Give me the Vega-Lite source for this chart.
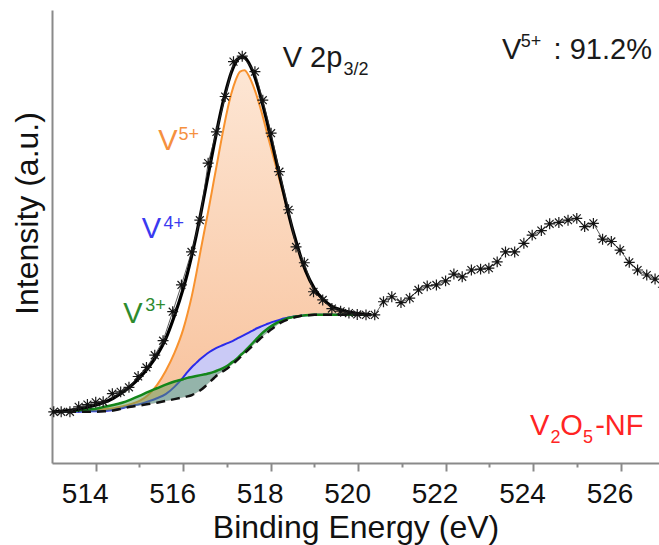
{
  "$schema": "https://vega.github.io/schema/vega-lite/v6.json",
  "width": 607,
  "height": 453,
  "autosize": {"type": "none"},
  "padding": {"left": 52, "top": 10, "right": 0, "bottom": 82},
  "background": "white",
  "config": {
    "font": "Liberation Sans",
    "view": {"stroke": null},
    "axis": {"grid": false}
  },
  "datasets": {
    "curves": [
      {"x": 513.0, "bg": 11.3, "v3": 11.3, "v4": 11.3, "v5": 11.3, "env": 11.3},
      {"x": 513.2, "bg": 11.3, "v3": 11.4, "v4": 11.3, "v5": 11.3, "env": 11.4},
      {"x": 513.4, "bg": 11.3, "v3": 11.5, "v4": 11.3, "v5": 11.4, "env": 11.6},
      {"x": 513.6, "bg": 11.3, "v3": 11.6, "v4": 11.3, "v5": 11.5, "env": 11.9},
      {"x": 513.8, "bg": 11.3, "v3": 11.8, "v4": 11.4, "v5": 11.6, "env": 12.3},
      {"x": 514.0, "bg": 11.3, "v3": 12.0, "v4": 11.4, "v5": 11.7, "env": 12.8},
      {"x": 514.2, "bg": 11.4, "v3": 12.4, "v4": 11.5, "v5": 11.9, "env": 13.4},
      {"x": 514.4, "bg": 11.6, "v3": 12.8, "v4": 11.7, "v5": 12.1, "env": 14.3},
      {"x": 514.6, "bg": 12.0, "v3": 13.3, "v4": 12.1, "v5": 12.5, "env": 15.5},
      {"x": 514.8, "bg": 12.4, "v3": 14.0, "v4": 12.6, "v5": 13.0, "env": 17.0},
      {"x": 515.0, "bg": 12.7, "v3": 14.8, "v4": 13.0, "v5": 13.7, "env": 18.8},
      {"x": 515.2, "bg": 13.0, "v3": 15.7, "v4": 13.6, "v5": 15.0, "env": 21.0},
      {"x": 515.4, "bg": 13.3, "v3": 16.5, "v4": 14.3, "v5": 17.2, "env": 23.8},
      {"x": 515.6, "bg": 13.7, "v3": 17.3, "v4": 15.2, "v5": 20.3, "env": 27.4},
      {"x": 515.8, "bg": 14.1, "v3": 18.0, "v4": 16.8, "v5": 24.3, "env": 32.5},
      {"x": 516.0, "bg": 14.5, "v3": 18.5, "v4": 18.9, "v5": 29.5, "env": 38.5},
      {"x": 516.1, "bg": 14.7, "v3": 18.8, "v4": 20.1, "v5": 33.0, "env": 42.0},
      {"x": 516.2, "bg": 15.0, "v3": 19.0, "v4": 21.2, "v5": 37.0, "env": 46.0},
      {"x": 516.3, "bg": 15.5, "v3": 19.2, "v4": 22.1, "v5": 41.8, "env": 50.3},
      {"x": 516.4, "bg": 16.1, "v3": 19.4, "v4": 23.0, "v5": 47.0, "env": 55.0},
      {"x": 516.5, "bg": 16.9, "v3": 19.6, "v4": 23.8, "v5": 52.0, "env": 60.0},
      {"x": 516.6, "bg": 17.8, "v3": 19.8, "v4": 24.5, "v5": 57.0, "env": 65.0},
      {"x": 516.7, "bg": 18.7, "v3": 20.1, "v4": 25.1, "v5": 62.3, "env": 70.0},
      {"x": 516.8, "bg": 19.6, "v3": 20.5, "v4": 25.6, "v5": 67.5, "env": 74.8},
      {"x": 516.9, "bg": 20.2, "v3": 20.9, "v4": 26.0, "v5": 72.7, "env": 79.2},
      {"x": 517.0, "bg": 20.8, "v3": 21.4, "v4": 26.4, "v5": 77.5, "env": 83.0},
      {"x": 517.1, "bg": 21.6, "v3": 22.1, "v4": 26.8, "v5": 81.5, "env": 86.2},
      {"x": 517.2, "bg": 22.4, "v3": 22.8, "v4": 27.3, "v5": 84.5, "env": 88.4},
      {"x": 517.3, "bg": 23.3, "v3": 23.7, "v4": 27.8, "v5": 86.4, "env": 89.5},
      {"x": 517.4, "bg": 24.2, "v3": 24.6, "v4": 28.3, "v5": 86.7, "env": 89.5},
      {"x": 517.5, "bg": 25.1, "v3": 25.6, "v4": 28.8, "v5": 85.5, "env": 88.3},
      {"x": 517.6, "bg": 26.0, "v3": 26.6, "v4": 29.3, "v5": 83.3, "env": 86.2},
      {"x": 517.7, "bg": 26.9, "v3": 27.6, "v4": 29.8, "v5": 80.5, "env": 83.3},
      {"x": 517.8, "bg": 27.8, "v3": 28.6, "v4": 30.2, "v5": 77.2, "env": 79.8},
      {"x": 517.9, "bg": 28.6, "v3": 29.4, "v4": 30.6, "v5": 73.5, "env": 76.0},
      {"x": 518.0, "bg": 29.4, "v3": 30.1, "v4": 31.0, "v5": 69.8, "env": 72.0},
      {"x": 518.1, "bg": 30.1, "v3": 30.7, "v4": 31.3, "v5": 66.2, "env": 67.8},
      {"x": 518.2, "bg": 30.8, "v3": 31.2, "v4": 31.6, "v5": 62.6, "env": 63.6},
      {"x": 518.3, "bg": 31.3, "v3": 31.6, "v4": 31.9, "v5": 59.0, "env": 59.5},
      {"x": 518.4, "bg": 31.7, "v3": 32.0, "v4": 32.1, "v5": 55.2, "env": 55.4},
      {"x": 518.5, "bg": 32.0, "v3": 32.2, "v4": 32.3, "v5": 51.5, "env": 51.6},
      {"x": 518.6, "bg": 32.3, "v3": 32.4, "v4": 32.4, "v5": 48.2, "env": 48.3},
      {"x": 518.7, "bg": 32.5, "v3": 32.5, "v4": 32.5, "v5": 45.0, "env": 45.1},
      {"x": 518.8, "bg": 32.6, "v3": 32.6, "v4": 32.6, "v5": 42.3, "env": 42.4},
      {"x": 519.0, "bg": 32.7, "v3": 32.7, "v4": 32.7, "v5": 38.4, "env": 38.5},
      {"x": 519.2, "bg": 32.7, "v3": 32.7, "v4": 32.7, "v5": 36.0, "env": 36.1},
      {"x": 519.4, "bg": 32.7, "v3": 32.7, "v4": 32.7, "v5": 34.6, "env": 34.6},
      {"x": 519.6, "bg": 32.7, "v3": 32.7, "v4": 32.7, "v5": 33.8, "env": 33.8},
      {"x": 519.8, "bg": 32.7, "v3": 32.7, "v4": 32.7, "v5": 33.3, "env": 33.3},
      {"x": 520.0, "bg": 32.7, "v3": 32.7, "v4": 32.7, "v5": 33.0, "env": 33.0},
      {"x": 520.2, "bg": 32.7, "v3": 32.7, "v4": 32.7, "v5": 32.8, "env": 32.8},
      {"x": 520.3, "bg": 32.7, "v3": 32.7, "v4": 32.7, "v5": 32.7, "env": 32.7}
    ],
    "exp": [
      {"x": 513.04, "y": 11.3}, {"x": 513.21, "y": 11.3}, {"x": 513.41, "y": 11.3},
      {"x": 513.61, "y": 12.4}, {"x": 513.81, "y": 12.9}, {"x": 514.0, "y": 13.4},
      {"x": 514.17, "y": 13.5}, {"x": 514.38, "y": 15.3}, {"x": 514.57, "y": 15.7},
      {"x": 514.76, "y": 16.7}, {"x": 514.97, "y": 19.1}, {"x": 515.16, "y": 21.1},
      {"x": 515.35, "y": 23.8}, {"x": 515.54, "y": 27.0}, {"x": 515.76, "y": 33.4},
      {"x": 515.96, "y": 39.3}, {"x": 516.19, "y": 46.6}, {"x": 516.38, "y": 53.6},
      {"x": 516.57, "y": 66.2}, {"x": 516.76, "y": 73.1}, {"x": 516.96, "y": 80.9},
      {"x": 517.15, "y": 88.6}, {"x": 517.35, "y": 89.8}, {"x": 517.64, "y": 86.4},
      {"x": 517.82, "y": 80.1}, {"x": 518.01, "y": 72.8}, {"x": 518.2, "y": 64.3},
      {"x": 518.41, "y": 55.9}, {"x": 518.58, "y": 47.7}, {"x": 518.77, "y": 44.2},
      {"x": 518.98, "y": 37.8}, {"x": 519.19, "y": 36.0}, {"x": 519.4, "y": 34.1},
      {"x": 519.6, "y": 33.5}, {"x": 519.79, "y": 33.1}, {"x": 519.98, "y": 32.8},
      {"x": 520.18, "y": 32.7}, {"x": 520.38, "y": 32.7}, {"x": 520.58, "y": 35.6},
      {"x": 520.77, "y": 36.7}, {"x": 520.98, "y": 35.4}, {"x": 521.18, "y": 36.4},
      {"x": 521.38, "y": 38.2}, {"x": 521.58, "y": 39.1}, {"x": 521.79, "y": 39.3},
      {"x": 522.0, "y": 40.2}, {"x": 522.19, "y": 41.7}, {"x": 522.38, "y": 41.1},
      {"x": 522.59, "y": 42.6}, {"x": 522.8, "y": 42.8}, {"x": 522.99, "y": 43.0},
      {"x": 523.18, "y": 44.4}, {"x": 523.37, "y": 46.6}, {"x": 523.58, "y": 46.6},
      {"x": 523.79, "y": 48.5}, {"x": 523.98, "y": 50.3}, {"x": 524.19, "y": 51.3},
      {"x": 524.38, "y": 52.8}, {"x": 524.59, "y": 53.1}, {"x": 524.8, "y": 53.6},
      {"x": 525.0, "y": 54.0}, {"x": 525.18, "y": 52.2}, {"x": 525.38, "y": 52.9},
      {"x": 525.59, "y": 49.4}, {"x": 525.79, "y": 48.9}, {"x": 525.99, "y": 47.0},
      {"x": 526.2, "y": 44.3}, {"x": 526.39, "y": 42.6}, {"x": 526.6, "y": 41.5},
      {"x": 526.79, "y": 40.6}, {"x": 526.98, "y": 38.8}
    ]
  },
  "layer": [
    {
      "data": {"name": "curves"},
      "mark": {"type": "area", "interpolate": "monotone",
        "color": {"gradient": "linear", "x1": 0, "y1": 0, "x2": 0, "y2": 1,
          "stops": [{"offset": 0, "color": "#FDE6D4"}, {"offset": 1, "color": "#F8C29C"}]}},
      "encoding": {
        "x": {"field": "x", "type": "quantitative",
          "scale": {"domain": [513, 526.88], "nice": false, "zero": false},
          "axis": {
            "values": [514, 515, 516, 517, 518, 519, 520, 521, 522, 523, 524, 525, 526],
            "labelExpr": "datum.value % 2 === 0 ? datum.label : ''",
            "tickSize": {"condition": {"test": "datum.value % 2 === 0", "value": 8}, "value": 4},
            "tickColor": "#8a8a8a", "tickWidth": 2,
            "domainColor": "#8a8a8a", "domainWidth": 2,
            "labelFontSize": 28, "labelColor": "#111111", "labelBaseline": "alphabetic",
            "labelPadding": 31, "labelOffset": -11, "labelFlush": false, "labelOverlap": false,
            "title": "Binding Energy (eV)", "titleFontSize": 32, "titleFontWeight": "normal",
            "titleColor": "#111111", "titleBaseline": "alphabetic", "titleY": 74
          }},
        "y": {"field": "v5", "type": "quantitative",
          "scale": {"domain": [0, 100], "nice": false, "zero": false},
          "axis": {"ticks": false, "labels": false, "domainColor": "#8a8a8a", "domainWidth": 2,
            "title": "Intensity (a.u.)", "titleFontSize": 32, "titleFontWeight": "normal",
            "titleColor": "#111111", "titleAngle": 270, "titleBaseline": "alphabetic",
            "titleAlign": "center", "titleX": -15, "titleY": 203}},
        "y2": {"field": "bg"}
      }
    },
    {
      "data": {"name": "curves"},
      "mark": {"type": "line", "interpolate": "monotone", "color": "#F8922E", "strokeWidth": 2},
      "encoding": {"x": {"field": "x", "type": "quantitative"}, "y": {"field": "v5", "type": "quantitative"}}
    },
    {
      "data": {"name": "curves"},
      "mark": {"type": "area", "interpolate": "monotone", "color": "#CACAF6"},
      "encoding": {"x": {"field": "x", "type": "quantitative"}, "y": {"field": "v4", "type": "quantitative"}, "y2": {"field": "bg"}}
    },
    {
      "data": {"name": "curves"},
      "mark": {"type": "line", "interpolate": "monotone", "color": "#2B2BEA", "strokeWidth": 2},
      "encoding": {"x": {"field": "x", "type": "quantitative"}, "y": {"field": "v4", "type": "quantitative"}}
    },
    {
      "data": {"name": "curves"},
      "mark": {"type": "area", "interpolate": "monotone", "color": "#5E9E5E", "opacity": 0.5},
      "encoding": {"x": {"field": "x", "type": "quantitative"}, "y": {"field": "v3", "type": "quantitative"}, "y2": {"field": "bg"}}
    },
    {
      "data": {"name": "curves"},
      "mark": {"type": "line", "interpolate": "monotone", "color": "#13861A", "strokeWidth": 2.5},
      "encoding": {"x": {"field": "x", "type": "quantitative"}, "y": {"field": "v3", "type": "quantitative"}}
    },
    {
      "data": {"name": "curves"},
      "mark": {"type": "line", "interpolate": "monotone", "color": "#111111", "strokeWidth": 2.5, "strokeDash": [9, 6]},
      "encoding": {"x": {"field": "x", "type": "quantitative"}, "y": {"field": "bg", "type": "quantitative"}}
    },
    {
      "data": {"name": "curves"},
      "mark": {"type": "line", "interpolate": "monotone", "color": "#000000", "strokeWidth": 3.2},
      "encoding": {"x": {"field": "x", "type": "quantitative"}, "y": {"field": "env", "type": "quantitative"}}
    },
    {
      "data": {"name": "exp"},
      "mark": {"type": "line", "color": "#333333", "strokeWidth": 0.8},
      "encoding": {"x": {"field": "x", "type": "quantitative"}, "y": {"field": "y", "type": "quantitative"}}
    },
    {
      "data": {"name": "exp"},
      "mark": {"type": "point", "shape": "M-1,0L1,0M0,-1L0,1M-0.72,-0.72L0.72,0.72M-0.72,0.72L0.72,-0.72",
        "size": 120, "filled": false, "stroke": "#1a1a1a", "strokeWidth": 1.2, "opacity": 1},
      "encoding": {"x": {"field": "x", "type": "quantitative"}, "y": {"field": "y", "type": "quantitative"}}
    },
    {
      "data": {"name": "exp"},
      "mark": {"type": "point", "shape": "circle", "size": 9, "filled": true, "color": "#111111", "opacity": 1},
      "encoding": {"x": {"field": "x", "type": "quantitative"}, "y": {"field": "y", "type": "quantitative"}}
    },
    {
      "mark": {"type": "rule", "color": "#8a8a8a", "strokeWidth": 2},
      "encoding": {"y": {"datum": 100}}
    },
    {
      "data": {"values": [
        {"x": 518.275, "y": 87.4, "t": "V 2p"},
        {"x": 523.29, "y": 89.1, "t": "V"},
        {"x": 524.47, "y": 89.1, "t": ": 91.2%"}
      ]},
      "mark": {"type": "text", "align": "left", "baseline": "alphabetic", "fontSize": 29, "color": "#1a1a1a"},
      "encoding": {"x": {"field": "x", "type": "quantitative"}, "y": {"field": "y", "type": "quantitative"}, "text": {"field": "t"}}
    },
    {
      "data": {"values": [
        {"x": 519.666, "y": 85.76, "t": "3/2"},
        {"x": 523.72, "y": 91.9, "t": "5+"}
      ]},
      "mark": {"type": "text", "align": "left", "baseline": "alphabetic", "fontSize": 18, "color": "#1a1a1a"},
      "encoding": {"x": {"field": "x", "type": "quantitative"}, "y": {"field": "y", "type": "quantitative"}, "text": {"field": "t"}}
    },
    {
      "data": {"values": [{"x": 515.43, "y": 69.1, "t": "V"}]},
      "mark": {"type": "text", "align": "left", "baseline": "alphabetic", "fontSize": 29, "color": "#F5903F"},
      "encoding": {"x": {"field": "x", "type": "quantitative"}, "y": {"field": "y", "type": "quantitative"}, "text": {"field": "t"}}
    },
    {
      "data": {"values": [{"x": 515.89, "y": 71.3, "t": "5+"}]},
      "mark": {"type": "text", "align": "left", "baseline": "alphabetic", "fontSize": 18, "color": "#F5903F"},
      "encoding": {"x": {"field": "x", "type": "quantitative"}, "y": {"field": "y", "type": "quantitative"}, "text": {"field": "t"}}
    },
    {
      "data": {"values": [{"x": 515.05, "y": 49.6, "t": "V"}]},
      "mark": {"type": "text", "align": "left", "baseline": "alphabetic", "fontSize": 29, "color": "#3A3AF0"},
      "encoding": {"x": {"field": "x", "type": "quantitative"}, "y": {"field": "y", "type": "quantitative"}, "text": {"field": "t"}}
    },
    {
      "data": {"values": [{"x": 515.55, "y": 51.66, "t": "4+"}]},
      "mark": {"type": "text", "align": "left", "baseline": "alphabetic", "fontSize": 18, "color": "#3A3AF0"},
      "encoding": {"x": {"field": "x", "type": "quantitative"}, "y": {"field": "y", "type": "quantitative"}, "text": {"field": "t"}}
    },
    {
      "data": {"values": [{"x": 514.63, "y": 30.84, "t": "V"}]},
      "mark": {"type": "text", "align": "left", "baseline": "alphabetic", "fontSize": 29, "color": "#2E8B2E"},
      "encoding": {"x": {"field": "x", "type": "quantitative"}, "y": {"field": "y", "type": "quantitative"}, "text": {"field": "t"}}
    },
    {
      "data": {"values": [{"x": 515.13, "y": 33.55, "t": "3+"}]},
      "mark": {"type": "text", "align": "left", "baseline": "alphabetic", "fontSize": 18, "color": "#2E8B2E"},
      "encoding": {"x": {"field": "x", "type": "quantitative"}, "y": {"field": "y", "type": "quantitative"}, "text": {"field": "t"}}
    },
    {
      "data": {"values": [
        {"x": 523.93, "y": 6.18, "t": "V"},
        {"x": 524.62, "y": 6.18, "t": "O"},
        {"x": 525.42, "y": 6.18, "t": "-NF"}
      ]},
      "mark": {"type": "text", "align": "left", "baseline": "alphabetic", "fontSize": 29, "color": "#FF2424"},
      "encoding": {"x": {"field": "x", "type": "quantitative"}, "y": {"field": "y", "type": "quantitative"}, "text": {"field": "t"}}
    },
    {
      "data": {"values": [
        {"x": 524.40, "y": 4.35, "t": "2"},
        {"x": 525.14, "y": 4.35, "t": "5"}
      ]},
      "mark": {"type": "text", "align": "left", "baseline": "alphabetic", "fontSize": 18, "color": "#FF2424"},
      "encoding": {"x": {"field": "x", "type": "quantitative"}, "y": {"field": "y", "type": "quantitative"}, "text": {"field": "t"}}
    }
  ]
}
